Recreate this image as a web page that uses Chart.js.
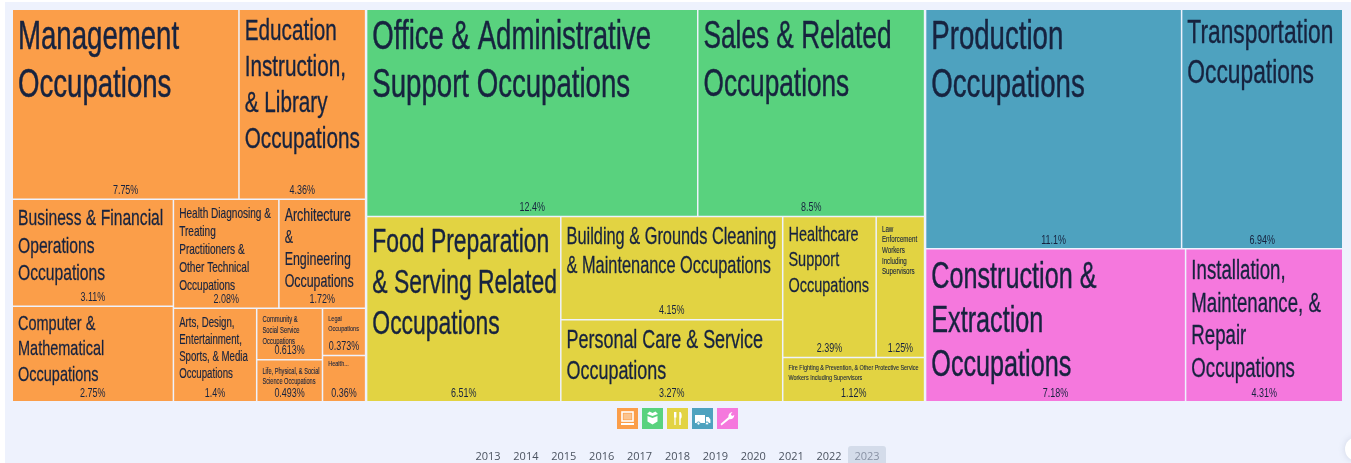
<!DOCTYPE html>
<html><head><meta charset="utf-8">
<script src="https://cdn.jsdelivr.net/npm/chart.js@4/dist/chart.umd.js"></script>
<style>
html,body{margin:0;padding:0;background:#fff;overflow:hidden;width:1351px;height:463px;font-family:"Open Sans",sans-serif}
#bg{position:absolute;left:5px;top:2px;right:0;bottom:0;background:#eef2fd}
canvas#c{position:absolute;left:0;top:0}
#legend{position:absolute;left:617px;top:408px;display:flex;gap:4px}
#legend svg{display:block;width:21px;height:21px}
.yr{position:absolute;top:446px;height:17px;line-height:19px;width:38px;text-align:center;font-size:11px;color:#4b5360}
.yr.on{background:#d4dcea;color:#8992a4;border-radius:3px 3px 0 0;font-weight:400}
#knob{position:absolute;left:1345px;top:437px;width:24px;height:24px;border-radius:50%;background:#fff;box-shadow:0 0 6px rgba(120,130,160,.25)}
</style></head><body>
<div id="bg"></div>
<canvas id="c" width="1351" height="463"></canvas>
<div id="legend"></div>
<div id="years"></div>
<div id="knob"></div>
<script>
const occupations=["Management Occupations","Education Instruction, & Library Occupations","Business & Financial Operations Occupations","Computer & Mathematical Occupations","Health Diagnosing & Treating Practitioners & Other Technical Occupations","Architecture & Engineering Occupations","Arts, Design, Entertainment, Sports, & Media Occupations","Community & Social Service Occupations","Life, Physical, & Social Science Occupations","Legal Occupations","Health...","Office & Administrative Support Occupations","Sales & Related Occupations","Food Preparation & Serving Related Occupations","Building & Grounds Cleaning & Maintenance Occupations","Personal Care & Service Occupations","Healthcare Support Occupations","Law Enforcement Workers Including Supervisors","Fire Fighting & Prevention, & Other Protective Service Workers Including Supervisors","Production Occupations","Transportation Occupations","Construction & Extraction Occupations","Installation, Maintenance, & Repair Occupations"];
const shares=[7.75,4.36,3.11,2.75,2.08,1.72,1.4,0.613,0.493,0.373,0.36,12.4,8.5,6.51,4.15,3.27,2.39,1.25,1.12,11.1,6.94,7.18,4.31];
const groupOf=[0,0,0,0,0,0,0,0,0,0,0,1,1,2,2,2,2,2,2,3,3,4,4];
const years=[2013,2014,2015,2016,2017,2018,2019,2020,2021,2022,2023];

const groupColors=["#fb9e49","#59d27e","#e2d342","#4ea2bf","#f578dd"];
// nesting of the tiles: h = side by side, v = stacked; numbers index the arrays above
const tree=["h",
 ["v",["h",0,1],["h",["v",2,3],["v",["h",4,5],["h",6,["v",7,8],["v",9,10]]]]],
 ["v",["h",11,12],["h",13,["v",14,15],["v",["h",16,17],18]]],
 ["v",["h",19,20],["h",21,22]]];
// text breaking and sizes per tile: [lines, font px, line height, first line centre offset]
const wrap=[
 [["Management","Occupations"],40,48,28],
 [["Education","Instruction,","& Library","Occupations"],30,36,22],
 [["Business & Financial","Operations","Occupations"],22.7,27.5,19],
 [["Computer &","Mathematical","Occupations"],21,25.5,17],
 [["Health Diagnosing &","Treating","Practitioners &","Other Technical","Occupations"],14.6,18,14],
 [["Architecture","&","Engineering","Occupations"],18,22,16],
 [["Arts, Design,","Entertainment,","Sports, & Media","Occupations"],14,17,14],
 [["Community &","Social Service","Occupations"],8.5,11,11],
 [["Life, Physical, & Social","Science Occupations"],8.2,10,11],
 [["Legal","Occupations"],8,10,10],
 [["Health..."],8,10,8],
 [["Office & Administrative","Support Occupations"],40,48,28],
 [["Sales & Related","Occupations"],38,48,28],
 [["Food Preparation","& Serving Related","Occupations"],33.2,41,26],
 [["Building & Grounds Cleaning","& Maintenance Occupations"],23.7,29,20],
 [["Personal Care & Service","Occupations"],26,31,20],
 [["Healthcare","Support","Occupations"],21,25.5,18],
 [["Law","Enforcement","Workers","Including","Supervisors"],9,10.7,12],
 [["Fire Fighting & Prevention, & Other Protective Service","Workers Including Supervisors"],7.9,10,10],
 [["Production","Occupations"],40,48,28],
 [["Transportation","Occupations"],33,40,24],
 [["Construction &","Extraction","Occupations"],36.5,44,28],
 [["Installation,","Maintenance, &","Repair","Occupations"],27,32.5,22]
];
const weight=n=>typeof n==="number"?shares[n]:n.slice(1).reduce((s,c)=>s+weight(c),0);
const total=weight(tree);
const tiles=[];
(function lay(n,x0,x1,y0,y1){
 if(typeof n==="number"){tiles[n]={x0,x1,y0,y1};return;}
 const w=weight(n);let a=n[0]==="h"?x0:y0;const span=n[0]==="h"?x1-x0:y1-y0;
 n.slice(1).forEach(c=>{const b=a+span*weight(c)/w;
  if(n[0]==="h")lay(c,a,b,y0,y1);else lay(c,x0,x1,a,b);a=b;});
})(tree,0,total,0,1);
const cells=occupations.map((name,i)=>({...tiles[i],i}));
const groupEdges=[];{let a=0;tree.slice(1).forEach(g=>{a+=weight(g);groupEdges.push(a);});}
const isGroupEdge=x=>x<total-1e-6&&groupEdges.some(e=>Math.abs(e-x)<1e-6);

class TreemapController extends Chart.DatasetController{
 update(){const m=this._cachedMeta;this.updateElements(m.data,0,m.data.length,"none");}
 updateElements(els,start,count){
  const m=this._cachedMeta,xs=m.xScale,ys=m.yScale,d=this.getDataset().data;
  for(let k=start;k<start+count;k++){
   const c=d[k];
   let l=xs.getPixelForValue(c.x0),r=xs.getPixelForValue(c.x1),t=ys.getPixelForValue(c.y0),b=ys.getPixelForValue(c.y1);
   const ins=0.75,grp=1.25;
   const iL=c.x0<1e-6?0:(isGroupEdge(c.x0)?grp:ins),iR=c.x1>total-1e-6?0:(isGroupEdge(c.x1)?grp:ins);
   const iT=c.y0>1e-6?ins:0,iB=c.y1<1-1e-6?ins:0;
   l+=iL;r-=iR;t+=iT;b-=iB;
   Object.assign(els[k],{x:(l+r)/2,y:t,base:b,width:r-l,height:b-t,horizontal:false,inflateAmount:0,
    borderSkipped:{},enableBorderRadius:false,
    options:{backgroundColor:groupColors[groupOf[c.i]],borderColor:"transparent",borderWidth:0,borderRadius:0},
    tile:{l,r,t,b}});
  }
 }
}
TreemapController.id="treemap";
TreemapController.defaults={dataElementType:"bar",datasetElementType:false};
Chart.register(TreemapController);

const FONT='"Liberation Sans Narrow","Liberation Sans",sans-serif';
const XS=0.69;
const labels={id:"labels",afterDatasetsDraw(chart){
 const ctx=chart.ctx,els=chart.getDatasetMeta(0).data;
 ctx.save();ctx.fillStyle="#17233f";ctx.strokeStyle="#17233f";ctx.textBaseline="middle";ctx.lineJoin="round";
 els.forEach((el,i)=>{
  const {l,r,t,b}=el.tile,[lines,fs,lh,off]=wrap[i];
  ctx.font=fs+"px "+FONT;ctx.textAlign="left";ctx.lineWidth=fs*0.012;
  lines.forEach((s,k)=>{ctx.save();ctx.translate(l+5,t+off+k*lh);ctx.scale(XS,1);ctx.fillText(s,0,0);ctx.strokeText(s,0,0);ctx.restore();});
  ctx.font="13px "+FONT;ctx.textAlign="center";
  ctx.save();ctx.translate((l+r)/2,b-8);ctx.scale(XS,1);ctx.fillText(shares[i]+"%",0,0);ctx.restore();
 });
 ctx.restore();
}};
new Chart(document.getElementById("c"),{
 type:"treemap",
 data:{labels:occupations,datasets:[{label:"Share of workforce",data:cells,parsing:false}]},
 options:{responsive:false,animation:false,events:[],
  layout:{padding:{left:13,right:9,top:10,bottom:62}},
  plugins:{legend:{display:false},tooltip:{enabled:false}},
  scales:{x:{type:"linear",min:0,max:total,display:false},y:{type:"linear",min:0,max:1,reverse:true,display:false}}},
 plugins:[labels]});

const icons=[
 '<rect x="5" y="4" width="11" height="9" fill="none" stroke="#fff" stroke-width="1.6"/><rect x="6.5" y="5.5" width="8" height="6" fill="#fbc48f"/><path d="M4 15h13v2H4z" fill="#fff"/>',
 '<path d="M10.5 8 5 6l2.5-2.5 3 1.5 3-1.5L16 6zM5.500 8l5 2 5-2v5.5l-5 3-5-3z" fill="#fff"/>',
 '<path d="M7 4h2.4v5.5H8.6V17H7.4V9.5H7zM13 4c1.2 0 1.7 2 1.7 4s-.6 2.6-1 2.8V17h-1.4V4z" fill="#fff"/>',
 '<path d="M3 7h10v8H3zM14 9h2.6l1.8 2.6V15H14z" fill="#fff"/><circle cx="6.5" cy="15.5" r="1.6" fill="#fff" stroke="#4ea2bf"/><circle cx="15" cy="15.5" r="1.6" fill="#fff" stroke="#4ea2bf"/>',
 '<path d="M4.5 17.5 3.5 16l8-7c-.4-2 .8-4.6 4-5l-1.7 2.3 1.2 1.6 2.3-1c0 3-2.500 4.700-5 4.300z" fill="#fff"/>'];
document.getElementById("legend").innerHTML=icons.map((p,i)=>`<svg viewBox="0 0 21 21"><rect width="21" height="21" fill="${groupColors[i]}"/>${p}</svg>`).join("");
document.getElementById("years").innerHTML=years.map((y,i)=>`<div class="yr${i===years.length-1?" on":""}" style="left:${469+i*37.9}px">${y}</div>`).join("");
</script></body></html>
